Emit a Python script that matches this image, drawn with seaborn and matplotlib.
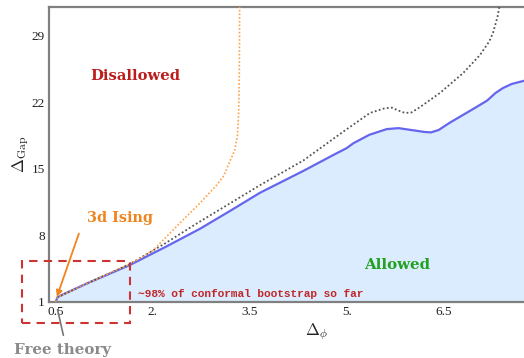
import matplotlib
matplotlib.use("Agg")
import matplotlib.pyplot as plt
from matplotlib.patches import Rectangle
import pandas as pd
import seaborn as sns

# Upper bound on the gap (allowed region lies below it)
bound_x = [0.50, 0.53, 0.60, 1.00, 1.65, 2.20, 2.73, 3.20, 3.66, 4.33, 4.80, 5.00,
           5.10, 5.35, 5.62, 5.80, 6.00, 6.20, 6.30, 6.42, 6.60, 6.80, 7.00, 7.17,
           7.30, 7.41, 7.55, 7.75]
bound_y = [1.0, 1.5, 1.75, 3.0, 4.9, 6.8, 8.7, 10.6, 12.5, 14.8, 16.5, 17.2,
           17.7, 18.6, 19.2, 19.3, 19.1, 18.9, 18.85, 19.1, 19.9, 20.7, 21.5, 22.2,
           23.0, 23.5, 23.95, 24.3]

# Earlier (weaker) bound, dotted grey
prev_x = [0.50, 0.53, 1.00, 1.65, 2.20, 2.69, 3.20, 3.66, 4.33, 4.94, 5.36, 5.59,
          5.70, 5.78, 5.90, 6.00, 6.13, 6.44, 6.80, 7.06, 7.20, 7.26, 7.33, 7.37]
prev_y = [1.0, 1.5, 3.0, 5.0, 7.2, 9.3, 11.4, 13.3, 15.9, 18.9, 20.9, 21.4,
          21.45, 21.2, 20.9, 20.95, 21.5, 23.0, 25.1, 27.0, 28.4, 29.3, 31.0, 32.5]

# 3d Ising kink curve, dotted orange
ising_x = [0.50, 0.53, 1.00, 1.65, 2.00, 2.16, 2.42, 2.73, 2.99, 3.10, 3.20, 3.27,
           3.31, 3.33, 3.34, 3.345]
ising_y = [1.0, 1.5, 3.0, 5.0, 6.4, 7.5, 9.3, 11.4, 13.3, 14.3, 15.9, 17.0,
           18.5, 21.0, 25.0, 33.0]

xticks = [0.5, 2.0, 3.5, 5.0, 6.5]
xtick_labels = ["0.5", "2.", "3.5", "5.", "6.5"]
yticks = [1, 8, 15, 22, 29]
ytick_labels = ["1", "8", "15", "22", "29"]

sns.set_theme(style="white")
plt.rcParams["font.family"] = ["Liberation Serif", "DejaVu Serif"]
plt.rcParams["mathtext.fontset"] = "cm"

fig = plt.figure(figsize=(5.24, 3.58), dpi=100)
ax = fig.add_axes([49 / 524, 56 / 358, 1 - 49 / 524, 295 / 358])

bound = pd.DataFrame({"x": bound_x, "y": bound_y})
prev = pd.DataFrame({"x": prev_x, "y": prev_y})
ising = pd.DataFrame({"x": ising_x, "y": ising_y})

ax.fill_between(bound["x"], 1.0, bound["y"], color="#dcecff", lw=0, zorder=1)
sns.lineplot(data=bound, x="x", y="y", ax=ax, color="#6565ee", lw=1.6,
             sort=False, estimator=None, zorder=3)
sns.lineplot(data=prev, x="x", y="y", ax=ax, color="#555555", lw=1.3,
             linestyle=(0, (1, 1.3)), sort=False, estimator=None, zorder=4)
sns.lineplot(data=ising, x="x", y="y", ax=ax, color="#ffa24a", lw=1.2,
             linestyle=(0, (1, 1.2)), sort=False, estimator=None, zorder=4)

ax.set_xlim(0.398, 7.74)
ax.set_ylim(1.0, 32.05)
ax.set_xticks(xticks)
ax.set_xticklabels(xtick_labels)
ax.set_yticks(yticks)
ax.set_yticklabels(ytick_labels)
ax.tick_params(direction="in", length=3, width=1, color="#666666",
               labelsize=9.5, labelcolor="#222222", pad=3)

for side in ["left", "top", "bottom"]:
    ax.spines[side].set_color("#808080")
    ax.spines[side].set_linewidth(1.6)
ax.spines["right"].set_visible(False)

ax.set_xlabel(r"$\Delta_\phi$", fontsize=12, color="#222222")
ax.xaxis.set_label_coords((317 - 49) / 475, -0.065)
ax.set_ylabel(r"$\Delta_{\rm Gap}$", fontsize=12, color="#222222", labelpad=0.5)

bold_serif = ["DejaVu Serif"]
ax.text(1.73, 24.8, "Disallowed", color="#bb1c1c", fontsize=10.6,
        fontweight="bold", family=bold_serif, ha="center", va="center")
ax.text(5.78, 4.9, "Allowed", color="#22a022", fontsize=10.8,
        fontweight="bold", family=bold_serif, ha="center", va="center")
ax.text(1.50, 9.84, "3d Ising", color="#f0841e", fontsize=10.4,
        fontweight="bold", family=bold_serif, ha="center", va="center")
ax.text(0.61, -4.05, "Free theory", color="#8a8a8a", fontsize=10.8,
        fontweight="bold", family=bold_serif, ha="center", va="center",
        clip_on=False)
ax.text(1.77, 1.3, "\u223c98% of conformal bootstrap so far", color="#c02828",
        fontsize=8.0, fontweight="bold", family=["Liberation Mono", "DejaVu Sans Mono"],
        ha="left", va="bottom")

ax.annotate("", xy=(0.52, 1.55), xytext=(0.86, 8.2),
            arrowprops=dict(arrowstyle="-|>", color="#f0841e", lw=1.3,
                            mutation_scale=9, shrinkA=0, shrinkB=0),
            zorder=6)
ax.annotate("", xy=(0.53, 0.2), xytext=(0.62, -2.5),
            arrowprops=dict(arrowstyle="-", color="#777777", lw=1.2,
                            shrinkA=0, shrinkB=0),
            annotation_clip=False, zorder=6)

ax.add_patch(Rectangle((-0.02, -1.21), 1.67, 6.53, fill=False,
                       edgecolor="#cc3333", lw=1.5, linestyle=(0, (4, 3)),
                       clip_on=False, zorder=7))

fig.savefig("out.png", dpi=100)
